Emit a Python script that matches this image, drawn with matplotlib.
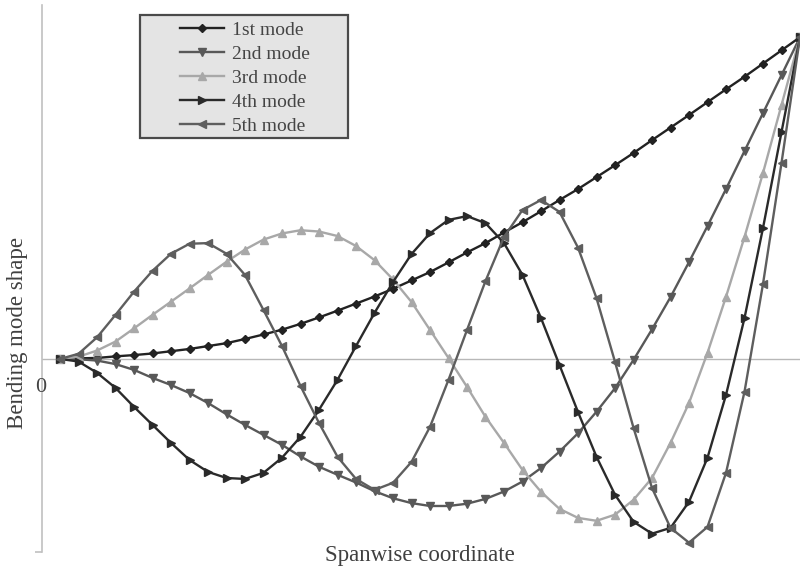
import matplotlib
matplotlib.use("Agg")
import matplotlib.pyplot as plt
from matplotlib.patches import Rectangle

plt.rcParams['font.family'] = ['Liberation Serif', 'DejaVu Serif']

# ---------------- data ----------------
spanwise = [0.0, 0.025, 0.05, 0.075, 0.1, 0.125, 0.15, 0.175, 0.2, 0.225,
            0.25, 0.275, 0.3, 0.325, 0.35, 0.375, 0.4, 0.425, 0.45, 0.475,
            0.5, 0.525, 0.55, 0.575, 0.6, 0.625, 0.65, 0.675, 0.7, 0.725,
            0.75, 0.775, 0.8, 0.825, 0.85, 0.875, 0.9, 0.925, 0.95, 0.975, 1.0]

mode1 = [0, 0.002, 0.003, 0.008, 0.012, 0.017, 0.024, 0.031, 0.040, 0.049,
         0.062, 0.076, 0.091, 0.109, 0.129, 0.150, 0.172, 0.194, 0.218, 0.244,
         0.270, 0.300, 0.331, 0.360, 0.393, 0.425, 0.459, 0.494, 0.528, 0.565,
         0.602, 0.640, 0.680, 0.719, 0.758, 0.798, 0.838, 0.877, 0.918, 0.959, 1.0]

mode2 = [0, -0.001, -0.005, -0.016, -0.034, -0.059, -0.081, -0.106, -0.137, -0.172,
         -0.205, -0.236, -0.267, -0.303, -0.335, -0.360, -0.384, -0.411, -0.433, -0.448,
         -0.457, -0.457, -0.450, -0.435, -0.412, -0.381, -0.339, -0.288, -0.231, -0.164,
         -0.091, -0.003, 0.092, 0.192, 0.301, 0.413, 0.528, 0.646, 0.764, 0.882, 1.0]

mode3 = [0, 0.007, 0.026, 0.054, 0.095, 0.137, 0.178, 0.219, 0.261, 0.302,
         0.340, 0.371, 0.390, 0.400, 0.396, 0.382, 0.351, 0.307, 0.247, 0.177,
         0.090, 0.003, -0.087, -0.180, -0.261, -0.345, -0.413, -0.466, -0.494, -0.503,
         -0.484, -0.438, -0.370, -0.261, -0.137, 0.019, 0.193, 0.379, 0.578, 0.789, 1.0]

mode4 = [0, -0.008, -0.043, -0.090, -0.149, -0.205, -0.261, -0.314, -0.351, -0.370,
         -0.373, -0.354, -0.307, -0.242, -0.158, -0.065, 0.040, 0.143, 0.239, 0.326,
         0.391, 0.432, 0.444, 0.422, 0.360, 0.261, 0.127, -0.019, -0.165, -0.304,
         -0.422, -0.506, -0.543, -0.525, -0.444, -0.307, -0.112, 0.127, 0.407, 0.705, 1.0]

mode5 = [0, 0.016, 0.067, 0.137, 0.209, 0.274, 0.327, 0.358, 0.360, 0.327,
         0.261, 0.152, 0.040, -0.084, -0.199, -0.304, -0.373, -0.407, -0.385, -0.320,
         -0.211, -0.065, 0.090, 0.242, 0.379, 0.463, 0.494, 0.457, 0.346, 0.189,
         -0.009, -0.214, -0.401, -0.525, -0.571, -0.522, -0.354, -0.102, 0.233, 0.609, 1.0]

series_labels = ["1st mode", "2nd mode", "3rd mode", "4th mode", "5th mode"]
x_label = "Spanwise coordinate"
y_label = "Bending mode shape"

# ---------------- styles ----------------
styles = [
    dict(color="#222222", marker="D", ms=4.0),
    dict(color="#585858", marker="v", ms=6.0),
    dict(color="#a8a8a8", marker="^", ms=6.0),
    dict(color="#2a2a2a", marker=">", ms=6.0),
    dict(color="#5e5e5e", marker="<", ms=6.0),
]

W, H = 800, 570
fig = plt.figure(figsize=(W / 100, H / 100), dpi=100)
ax = fig.add_axes([42 / W, 1 - 552 / H, (800 - 42) / W, (552 - 5) / H])

ax.set_xlim(-18 / 740, 1.0)
ax.set_ylim(-0.6, 1.1)

ax.axhline(0, color="#b8b8b8", lw=1.0, zorder=1)

handles = []
for vals, lab, st in zip([mode1, mode2, mode3, mode4, mode5], series_labels, styles):
    h, = ax.plot(spanwise, vals, color=st["color"], lw=1.7, marker=st["marker"],
                 ms=st["ms"], mfc=st["color"], mec=st["color"], label=lab,
                 clip_on=False, zorder=3)
    handles.append(h)

for s in ["top", "right", "bottom"]:
    ax.spines[s].set_visible(False)
ax.spines["left"].set_color("#c0c0c0")
ax.spines["left"].set_linewidth(1.2)
ax.set_xticks([])
ax.set_yticks([-0.6])
ax.tick_params(axis="y", length=5, width=1.2, color="#c0c0c0", labelleft=False)

# "0" label
fig.text(41 / W, 1 - 387 / H, "0", fontsize=16, color="#444444",
         ha="center", va="center", zorder=0)

# axis titles
fig.text(420 / W, 1 - 556 / H, x_label, fontsize=16.5, color="#404040",
         ha="center", va="center")
fig.text(18 / W, 1 - 333 / H, y_label, fontsize=16.5, color="#404040",
         ha="center", va="center", rotation=90)

# legend box
rect = Rectangle((140 / W, 1 - 138 / H), (348 - 140) / W, (138 - 15) / H,
                 transform=fig.transFigure, facecolor="#e4e4e4",
                 edgecolor="#4a4a4a", lw=1.6, zorder=5)
fig.patches.append(rect)

leg = fig.legend(handles=handles, loc="upper left",
                 bbox_to_anchor=(180 / W, 1 - 21 / H), bbox_transform=fig.transFigure,
                 frameon=False, fontsize=14, labelcolor="#444444",
                 handlelength=2.27, handletextpad=0.4, labelspacing=0.33,
                 borderpad=0, borderaxespad=0, numpoints=1, markerscale=1.0)
leg.set_zorder(6)

fig.savefig("out.png", dpi=100)
